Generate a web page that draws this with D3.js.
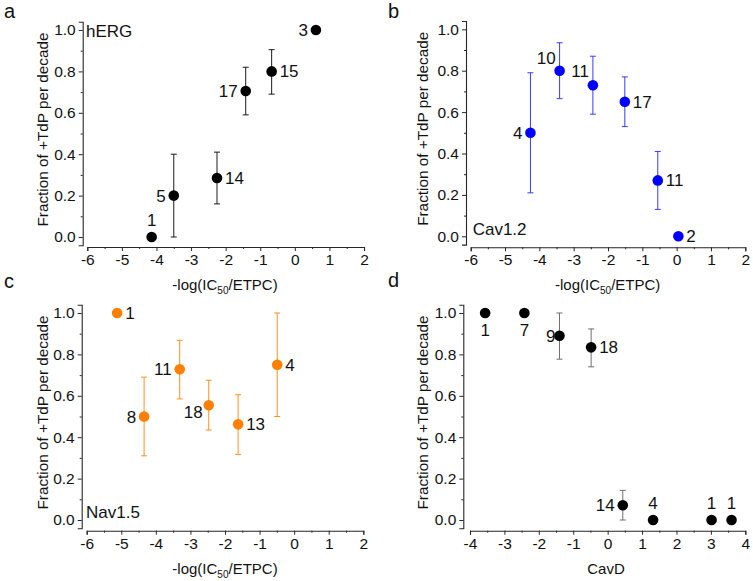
<!DOCTYPE html>
<html><head><meta charset="utf-8">
<script src="https://cdn.jsdelivr.net/npm/d3@7"></script>
<style>body{margin:0;background:#fff} svg{display:block;font-family:"Liberation Sans",Arial,sans-serif}</style>
</head><body><svg id="c" width="753" height="581"></svg>
<script>
// ---------- data ----------
const yTickVals = [0, 0.2, 0.4, 0.6, 0.8, 1.0];
const yMinorVals = [0.1, 0.3, 0.5, 0.7, 0.9];
const logTickVals = [-6, -5, -4, -3, -2, -1, 0, 1, 2];
const cavdTickVals = [-4, -3, -2, -1, 0, 1, 2, 3, 4];

// a: hERG
const hergX  = [-4.14, -3.50, -2.25, -1.42, -0.67, 0.61];
const hergY  = [0.0, 0.20, 0.285, 0.705, 0.80, 1.0];
const hergLo = [null, 0.0, 0.16, 0.59, 0.69, null];
const hergHi = [null, 0.40, 0.41, 0.82, 0.905, null];
const hergN  = ["1", "5", "14", "17", "15", "3"];
const hergPos = ["A", "L", "R", "L", "R", "L"];

// b: Cav1.2
const cavX  = [-4.26, -3.41, -2.44, -1.51, -0.55, 0.05];
const cavY  = [0.50, 0.80, 0.73, 0.65, 0.27, 0.0];
const cavLo = [0.21, 0.665, 0.59, 0.53, 0.13, null];
const cavHi = [0.79, 0.935, 0.87, 0.77, 0.41, null];
const cavN  = ["4", "10", "11", "17", "11", "2"];
const cavPos = ["L", "UL", "UL2", "R", "R", "R"];

// c: Nav1.5
const navX  = [-5.12, -4.34, -3.31, -2.47, -1.62, -0.49];
const navY  = [1.0, 0.50, 0.728, 0.554, 0.462, 0.75];
const navLo = [null, 0.31, 0.585, 0.435, 0.317, 0.50];
const navHi = [null, 0.69, 0.868, 0.675, 0.605, 1.0];
const navN  = ["1", "8", "11", "18", "13", "4"];
const navPos = ["R", "L", "L", "LB", "R", "R"];

// d: CavD
const cavdX  = [-3.56, -2.42, -1.40, -0.48, 0.44, 1.32, 3.02, 3.60];
const cavdY  = [1.0, 1.0, 0.89, 0.834, 0.071, 0.0, 0.0, 0.0];
const cavdLo = [null, null, 0.777, 0.74, 0.0, null, null, null];
const cavdHi = [null, null, 1.0, 0.923, 0.143, null, null, null];
const cavdN  = ["1", "7", "9", "18", "14", "4", "1", "1"];
const cavdPos = ["B", "B", "L9", "R", "L", "A", "A", "A"];

// ---------- drawing ----------
const svg = d3.select("#c");
const AX = "#262626";

const panels = [
  {letter:"a", lx:4, ly:18, xs:hergX, ys:hergY, lo:hergLo, hi:hergHi, n:hergN, pos:hergPos,
   fill:"#000", err:"#1a1a1a", name:"hERG", nameX:86, nameY:37,
   xDom:[-6,2], xTicks:logTickVals, xTitle:"log", xTitleX:225,
   yAxisX:82.7, yTop:30, yBot:237, xAxisY:247, xLeft:87.3, xRight:364, yTitleX:43},
  {letter:"b", lx:388, ly:18, xs:cavX, ys:cavY, lo:cavLo, hi:cavHi, n:cavN, pos:cavPos,
   fill:"#0000ff", err:"#3a3aff", name:"Cav1.2", nameX:472.7, nameY:235,
   xDom:[-6,2], xTicks:logTickVals, xTitle:"log", xTitleX:607.7,
   yAxisX:466, yTop:29.3, yBot:236.3, xAxisY:247.3, xLeft:470.7, xRight:745.3, yTitleX:423},
  {letter:"c", lx:4, ly:288, xs:navX, ys:navY, lo:navLo, hi:navHi, n:navN, pos:navPos,
   fill:"#ff8000", err:"#ff9020", name:"Nav1.5", nameX:86, nameY:518,
   xDom:[-6,2], xTicks:logTickVals, xTitle:"log", xTitleX:225,
   yAxisX:81.7, yTop:313, yBot:520, xAxisY:530.7, xLeft:86.7, xRight:363.3, yTitleX:43},
  {letter:"d", lx:388, ly:287, xs:cavdX, ys:cavdY, lo:cavdLo, hi:cavdHi, n:cavdN, pos:cavdPos,
   fill:"#000", err:"#6e6e6e", name:null,
   xDom:[-4,4], xTicks:cavdTickVals, xTitle:"CavD", xTitleX:606,
   yAxisX:463.3, yTop:313, yBot:520, xAxisY:530.7, xLeft:470, xRight:745.3, yTitleX:423}
];

function styleAxis(g){
  g.selectAll("path.domain").attr("stroke", AX).attr("stroke-width", 1.1);
  g.selectAll(".tick line").attr("stroke", AX).attr("stroke-width", 1);
  g.selectAll(".tick text").attr("fill", "#111").style("font-size", "15.5px")
    .style("font-family", '"Liberation Sans",Arial,sans-serif');
}

panels.forEach(p => {
  const h = p.yBot - p.yTop;
  const y = d3.scaleLinear().domain([-0.04, 1.04]).range([p.yBot + 0.04*h, p.yTop - 0.04*h]);
  const x = d3.scaleLinear().domain(p.xDom).range([p.xLeft, p.xRight]);
  const g = svg.append("g");

  // panel letter
  g.append("text").attr("x", p.lx).attr("y", p.ly).text(p.letter)
    .style("font-size", "20px").attr("fill", "#111");

  // y axis
  const ya = g.append("g").attr("transform", `translate(${p.yAxisX},0)`)
    .call(d3.axisLeft(y).tickValues(yTickVals).tickFormat(d3.format(".1f")).tickSizeOuter(0).tickSize(4).tickPadding(3));
  styleAxis(ya);
  const ym = g.append("g").attr("transform", `translate(${p.yAxisX},0)`)
    .call(d3.axisLeft(y).tickValues(yMinorVals).tickFormat("").tickSize(2));
  ym.select("path.domain").remove();
  styleAxis(ym);

  // x axis
  const xa = g.append("g").attr("transform", `translate(0,${p.xAxisY})`)
    .call(d3.axisBottom(x).tickValues(p.xTicks).tickFormat(d => String(d)).tickSizeOuter(0).tickSize(4).tickPadding(3));
  styleAxis(xa);
  const xMinor = p.xTicks.slice(0, -1).map(v => v + 0.5);
  const xm = g.append("g").attr("transform", `translate(0,${p.xAxisY})`)
    .call(d3.axisBottom(x).tickValues(xMinor).tickFormat("").tickSize(2));
  xm.select("path.domain").remove();
  styleAxis(xm);

  // y title
  g.append("text")
    .attr("transform", `translate(${p.yTitleX + 5},${(p.yTop + p.yBot)/2 - 4}) rotate(-90)`)
    .attr("text-anchor", "middle").style("font-size", "15.3px").attr("fill", "#111")
    .text("Fraction of +TdP per decade");

  // x title
  const xt = g.append("text").attr("x", p.xTitleX).attr("y", p.xAxisY + 43)
    .attr("text-anchor", "middle").style("font-size", "15px").attr("fill", "#111");
  if (p.xTitle === "log") {
    xt.append("tspan").text("-log(IC");
    xt.append("tspan").attr("dy", 4).style("font-size", "10px").text("50");
    xt.append("tspan").attr("dy", -4).text("/ETPC)");
  } else {
    xt.text(p.xTitle);
  }

  // panel name
  if (p.name) {
    g.append("text").attr("x", p.nameX).attr("y", p.nameY).text(p.name)
      .style("font-size", "17px").attr("fill", "#111");
  }

  const idx = d3.range(p.xs.length);
  // error bars
  const eb = g.append("g").attr("stroke", p.err).attr("stroke-width", 1).attr("fill", "none");
  idx.filter(i => p.lo[i] !== null).forEach(i => {
    const cx = x(p.xs[i]);
    eb.append("line").attr("x1", cx).attr("x2", cx).attr("y1", y(p.lo[i])).attr("y2", y(p.hi[i]));
    eb.append("line").attr("x1", cx - 3).attr("x2", cx + 3).attr("y1", y(p.lo[i])).attr("y2", y(p.lo[i]));
    eb.append("line").attr("x1", cx - 3).attr("x2", cx + 3).attr("y1", y(p.hi[i])).attr("y2", y(p.hi[i]));
  });

  // points
  g.selectAll("circle.pt").data(idx).join("circle").attr("class", "pt")
    .attr("cx", i => x(p.xs[i])).attr("cy", i => y(p.ys[i])).attr("r", 5.3)
    .attr("fill", p.fill);

  // count labels
  const off = {
    A:  {dx: 0,   dy: -11, a: "middle"},
    B:  {dx: 0,   dy: 23,  a: "middle"},
    L:  {dx: -8,  dy: 6,   a: "end"},
    L9: {dx: -4,  dy: 6,   a: "end"},
    R:  {dx: 8,   dy: 6,   a: "start"},
    UL: {dx: -4,  dy: -7,  a: "end"},
    UL2:{dx: -4,  dy: -8.5,a: "end"},
    LB: {dx: -6,  dy: 13,  a: "end"}
  };
  g.selectAll("text.cnt").data(idx).join("text").attr("class", "cnt")
    .attr("x", i => x(p.xs[i]) + off[p.pos[i]].dx)
    .attr("y", i => y(p.ys[i]) + off[p.pos[i]].dy)
    .attr("text-anchor", i => off[p.pos[i]].a)
    .style("font-size", "17px").attr("fill", "#111")
    .text(i => p.n[i]);
});
</script></body></html>
